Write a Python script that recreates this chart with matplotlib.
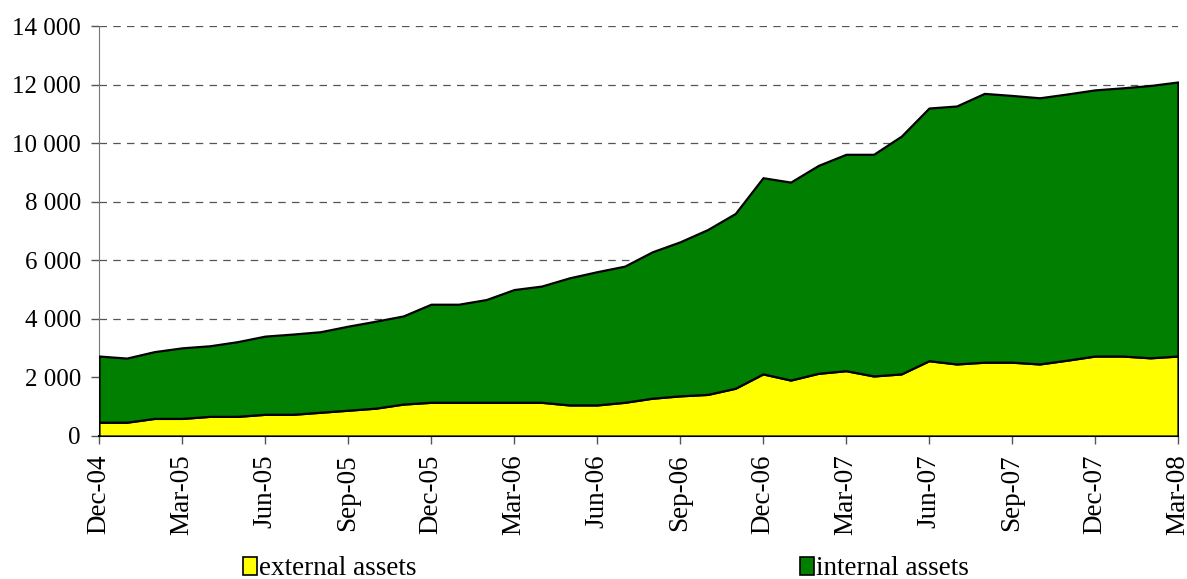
import numpy as np
import matplotlib.pyplot as plt
from matplotlib.patches import Patch
from matplotlib.ticker import FuncFormatter

# monthly data, Dec-04 .. Mar-08
months = ['Dec-04', 'Jan-05', 'Feb-05', 'Mar-05', 'Apr-05', 'May-05', 'Jun-05', 'Jul-05',
          'Aug-05', 'Sep-05', 'Oct-05', 'Nov-05', 'Dec-05', 'Jan-06', 'Feb-06', 'Mar-06',
          'Apr-06', 'May-06', 'Jun-06', 'Jul-06', 'Aug-06', 'Sep-06', 'Oct-06', 'Nov-06',
          'Dec-06', 'Jan-07', 'Feb-07', 'Mar-07', 'Apr-07', 'May-07', 'Jun-07', 'Jul-07',
          'Aug-07', 'Sep-07', 'Oct-07', 'Nov-07', 'Dec-07', 'Jan-08', 'Feb-08', 'Mar-08']

external = [470, 470, 600, 600, 670, 670, 740, 740, 810, 880, 950, 1090, 1150, 1150,
            1150, 1150, 1150, 1060, 1060, 1150, 1290, 1370, 1420, 1630, 2120, 1910,
            2140, 2230, 2050, 2120, 2570, 2460, 2520, 2520, 2460, 2590, 2730, 2730,
            2670, 2730]

total = [2730, 2660, 2880, 3010, 3080, 3220, 3410, 3480, 3560, 3750, 3920, 4100, 4500,
         4500, 4660, 5000, 5120, 5400, 5610, 5800, 6290, 6630, 7050, 7600, 8820, 8670,
         9240, 9620, 9620, 10240, 11200, 11270, 11700, 11630, 11550, 11680, 11820,
         11890, 11970, 12090]

internal = list(np.array(total) - np.array(external))

labels = ['external assets', 'internal assets']
colors = ['#ffff00', '#007f00']

plt.rcParams['font.family'] = ['Liberation Serif', 'DejaVu Serif']

fig = plt.figure(figsize=(11.87, 5.79), dpi=100)
ax = fig.add_axes([0.0834, 0.247, 0.909, 0.708])

x = np.arange(len(months))
ax.stackplot(x, external, internal, colors=colors, edgecolor='black', linewidth=1.6, zorder=3)

ax.set_xlim(0, len(months) - 1)
ax.set_ylim(0, 14000)

# dashed grid behind the areas
ax.set_yticks(np.arange(0, 14001, 2000))
for yv in range(2000, 14001, 2000):
    ax.axhline(yv, color='#555555', linestyle=(0, (6, 5)), linewidth=0.9, zorder=1)

ax.yaxis.set_major_formatter(FuncFormatter(lambda v, p: f'{int(v):,}'.replace(',', ' ')))

ax.set_xticks(x[::3])
ax.set_xticklabels(months[::3], rotation=90)

ax.tick_params(axis='both', direction='out', length=6, width=1, color='#555555', pad=7)
ax.tick_params(axis='y', labelsize=18)
ax.tick_params(axis='x', labelsize=19.5)

for s in ['top', 'right']:
    ax.spines[s].set_visible(False)
ax.spines['left'].set_color('#777777')
ax.spines['bottom'].set_color('black')
ax.spines['bottom'].set_linewidth(1.5)

# two legend entries placed apart, like the original
for i, xpos in enumerate([0.2047, 0.674]):
    h = Patch(facecolor=colors[i], edgecolor='black', linewidth=1.2)
    fig.legend([h], [labels[i]], loc='lower left', bbox_to_anchor=(xpos, -0.004),
               frameon=False, fontsize=19.5, handlelength=0.5, handleheight=0.65,
               handletextpad=0.1, borderpad=0, borderaxespad=0)

fig.savefig('out.png', dpi=100)
